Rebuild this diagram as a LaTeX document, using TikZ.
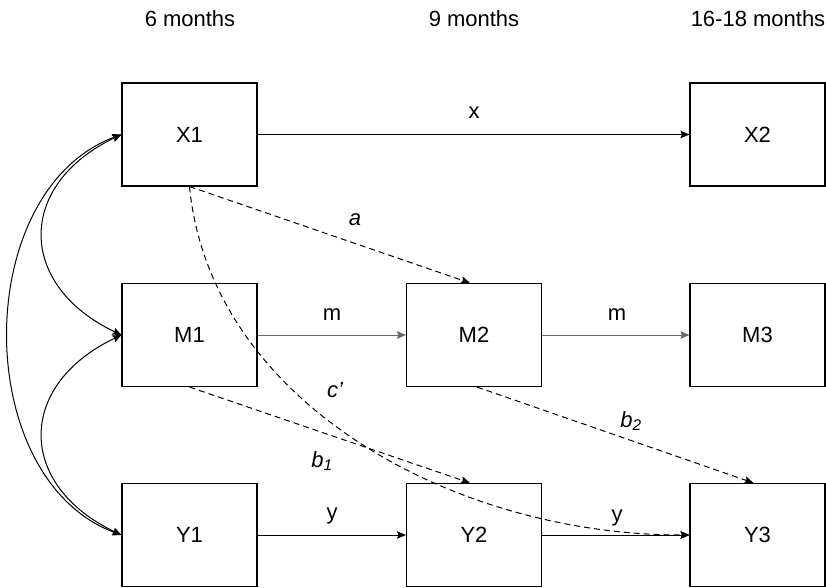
\documentclass[tikz,border=0pt]{standalone}
\usepackage{fontspec}
\setmainfont{Liberation Sans}
\usetikzlibrary{arrows.meta,calc}

\begin{document}
\begin{tikzpicture}[x=1pt,y=-1pt,
  font=\fontsize{22}{26}\selectfont,
  var/.style={draw, line width=1.1pt, minimum width=135pt, minimum height=103pt, inner sep=0pt},
  tip/.style={-{Stealth[length=9pt,width=7.5pt,inset=1.5pt]}},
  spath/.style={tip, line width=1pt},
  thinpath/.style={tip, line width=0.7pt, draw=black!60},
  dpath/.style={tip, line width=1pt, dash pattern=on 6pt off 4pt},
  cov/.style={{Stealth[length=9pt,width=7.5pt,inset=1.5pt]}-{Stealth[length=9pt,width=7.5pt,inset=1.5pt]}, line width=1pt},
  lbl/.style={inner sep=0pt},
  ilbl/.style={inner sep=0pt, font=\fontsize{22}{26}\selectfont\itshape}
]
\useasboundingbox (0,0) rectangle (826,587);

% time point headings
\node[lbl] (t1) at (190,19) {6 months};
\node[lbl] (t2) at (474,19) {9 months};
\node[lbl] (t3) at (758,19) {16-18 months};

% measured variables
\node[var] (X1) at (189.5,134.5) {X1};
\node[var] (X2) at (757.5,134.5) {X2};
\node[var] (M1) at (189.5,335) {M1};
\node[var] (M2) at (474,335) {M2};
\node[var] (M3) at (757.5,335) {M3};
\node[var] (Y1) at (189.5,535) {Y1};
\node[var] (Y2) at (474,535) {Y2};
\node[var] (Y3) at (757.5,535) {Y3};

% stability paths
\draw[spath] (X1) -- (X2);
\draw[thinpath] (M1) -- (M2);
\draw[thinpath] (M2) -- (M3);
\draw[spath] (Y1) -- (Y2);
\draw[spath] (Y2) -- (Y3);

% mediation paths
\draw[dpath] (X1.south) -- ($(M2.north)+(-4,0)$);
\draw[dpath] (M1.south) -- ($(Y2.north)+(-4,0)$);
\draw[dpath] ($(M2.south)+(3,0)$) -- ($(Y3.north)+(-4,0)$);
\draw[dpath] (X1.south) .. controls (210,400) and (450,535) .. (Y3.west);

% covariances at baseline
\draw[cov] (X1.west) .. controls +(-105,50) and +(-105,-50) .. (M1.west);
\draw[cov] (M1.west) .. controls +(-105,50) and +(-105,-50) .. (Y1.west);
\draw[cov] (X1.west) .. controls +(-151,56) and +(-151,-56) .. (Y1.west);

% path labels
\node[lbl] (lx) at (474,113) {x};
\node[lbl] (lm1) at (332,315) {m};
\node[lbl] (lm2) at (617,315) {m};
\node[lbl] (ly1) at (332,516) {y};
\node[lbl] (ly2) at (617,518) {y};
\node[ilbl] (la) at (355,220) {a};
\node[ilbl] (lc) at (335,390) {c’};
\node[ilbl] (lb1) at (322,461) {b\textsubscript{1}};
\node[ilbl] (lb2) at (631,421) {b\textsubscript{2}};
\end{tikzpicture}
\end{document}
